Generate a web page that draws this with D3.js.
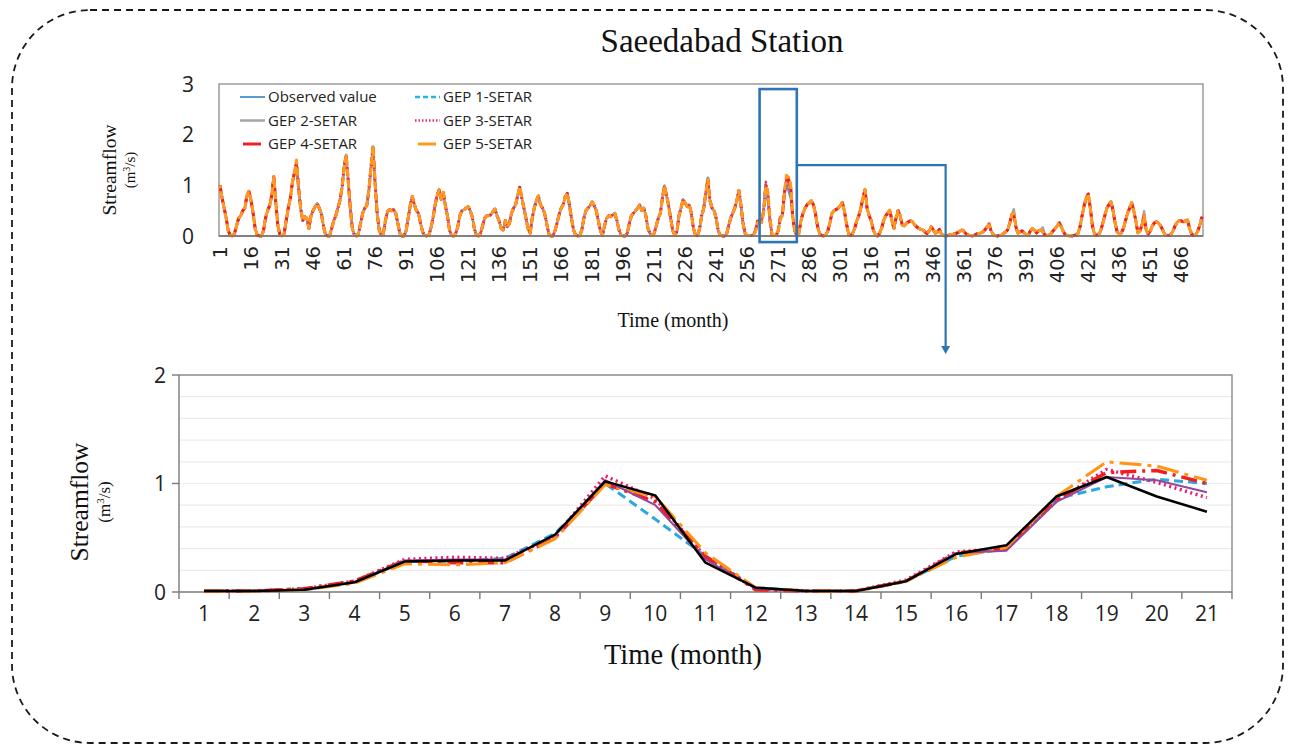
<!DOCTYPE html>
<html>
<head>
<meta charset="utf-8">
<script src="https://cdn.jsdelivr.net/npm/d3@7"></script>
<style>
  body { margin: 0; background: #fff; }
  svg { display: block; }
</style>
</head>
<body>
<svg id="fig" width="1293" height="753"></svg>
<script>
// ---------------- data ----------------
const seriesNames = ["Observed value", "GEP 1-SETAR", "GEP 2-SETAR", "GEP 3-SETAR", "GEP 4-SETAR", "GEP 5-SETAR"];

// Observed monthly streamflow (m3/s), months 1-256
const observedEarly = [
  1.00, 0.75, 0.55, 0.35, 0.10, 0.01, 0.00, 0.05, 0.20, 0.35,
  0.40, 0.50, 0.55, 0.80, 0.88, 0.70, 0.45, 0.15, 0.02, 0.00,
  0.00, 0.10, 0.35, 0.50, 0.60, 0.80, 1.17, 0.65, 0.20, 0.02,
  0.00, 0.05, 0.30, 0.55, 0.75, 1.05, 1.25, 1.45, 0.95, 0.55,
  0.30, 0.38, 0.35, 0.15, 0.40, 0.50, 0.58, 0.64, 0.55, 0.45,
  0.20, 0.03, 0.00, 0.00, 0.15, 0.30, 0.40, 0.55, 0.70, 0.95,
  1.35, 1.60, 1.10, 0.55, 0.15, 0.02, 0.00, 0.05, 0.25, 0.45,
  0.55, 0.60, 0.90, 1.35, 1.76, 1.05, 0.45, 0.12, 0.02, 0.05,
  0.30, 0.48, 0.52, 0.50, 0.52, 0.45, 0.25, 0.05, 0.00, 0.00,
  0.10, 0.35, 0.60, 0.78, 0.62, 0.50, 0.45, 0.25, 0.08, 0.01,
  0.00, 0.02, 0.15, 0.35, 0.60, 0.80, 0.91, 0.72, 0.86, 0.60,
  0.40, 0.12, 0.01, 0.00, 0.05, 0.18, 0.40, 0.50, 0.52, 0.55,
  0.58, 0.50, 0.38, 0.15, 0.02, 0.00, 0.05, 0.20, 0.35, 0.40,
  0.40, 0.42, 0.48, 0.53, 0.40, 0.30, 0.15, 0.12, 0.30, 0.18,
  0.25, 0.45, 0.55, 0.62, 0.80, 0.96, 0.75, 0.55, 0.35, 0.15,
  0.05, 0.35, 0.55, 0.70, 0.79, 0.62, 0.55, 0.45, 0.25, 0.05,
  0.00, 0.00, 0.10, 0.25, 0.42, 0.55, 0.62, 0.78, 0.84, 0.62,
  0.35, 0.12, 0.02, 0.00, 0.00, 0.12, 0.35, 0.50, 0.55, 0.60,
  0.67, 0.60, 0.50, 0.30, 0.10, 0.02, 0.20, 0.35, 0.40, 0.38,
  0.42, 0.45, 0.30, 0.12, 0.02, 0.00, 0.00, 0.05, 0.25, 0.40,
  0.45, 0.50, 0.55, 0.61, 0.50, 0.55, 0.40, 0.15, 0.05, 0.01,
  0.05, 0.20, 0.35, 0.45, 0.75, 0.99, 0.80, 0.60, 0.35, 0.10,
  0.02, 0.08, 0.40, 0.55, 0.72, 0.65, 0.58, 0.62, 0.45, 0.15,
  0.02, 0.00, 0.15, 0.40, 0.55, 0.85, 1.12, 0.70, 0.55, 0.50,
  0.35, 0.10, 0.02, 0.00, 0.00, 0.03, 0.20, 0.35, 0.45, 0.55,
  0.70, 0.90, 0.60, 0.25, 0.05, 0.01
];

// Observed monthly streamflow (m3/s), months 278-476
const observedLate = [
  0.40, 0.10, 0.02, 0.05, 0.30, 0.45, 0.55, 0.62, 0.65, 0.70,
  0.62, 0.45, 0.20, 0.05, 0.01, 0.00, 0.02, 0.10, 0.25, 0.45,
  0.50, 0.52, 0.55, 0.60, 0.66, 0.50, 0.25, 0.05, 0.01, 0.05,
  0.15, 0.30, 0.40, 0.55, 0.75, 0.92, 0.55, 0.40, 0.30, 0.12,
  0.03, 0.00, 0.05, 0.15, 0.30, 0.40, 0.45, 0.51, 0.30, 0.15,
  0.35, 0.50, 0.40, 0.22, 0.20, 0.25, 0.28, 0.30, 0.28, 0.22,
  0.18, 0.15, 0.13, 0.12, 0.08, 0.05, 0.10, 0.18, 0.12, 0.05,
  0.08, 0.13, 0.04, 0.01, 0.00, 0.01, 0.02, 0.03, 0.04, 0.05,
  0.07, 0.10, 0.12, 0.08, 0.04, 0.02, 0.01, 0.00, 0.02, 0.04,
  0.05, 0.06, 0.08, 0.12, 0.18, 0.22, 0.10, 0.03, 0.01, 0.00,
  0.01, 0.02, 0.05, 0.08, 0.12, 0.25, 0.42, 0.45, 0.18, 0.05,
  0.08, 0.10, 0.06, 0.03, 0.02, 0.10, 0.15, 0.12, 0.06, 0.10,
  0.12, 0.08, 0.02, 0.01, 0.02, 0.05, 0.10, 0.15, 0.20, 0.26,
  0.18, 0.08, 0.02, 0.01, 0.00, 0.00, 0.01, 0.02, 0.05, 0.18,
  0.40, 0.60, 0.75, 0.83, 0.55, 0.20, 0.04, 0.01, 0.03, 0.10,
  0.25, 0.40, 0.55, 0.62, 0.68, 0.50, 0.25, 0.08, 0.04, 0.06,
  0.15, 0.30, 0.45, 0.55, 0.66, 0.50, 0.30, 0.06, 0.10, 0.22,
  0.40, 0.12, 0.04, 0.10, 0.20, 0.26, 0.28, 0.25, 0.20, 0.12,
  0.03, 0.01, 0.01, 0.03, 0.10, 0.20, 0.27, 0.30, 0.30, 0.28,
  0.30, 0.32, 0.15, 0.04, 0.01, 0.02, 0.10, 0.22, 0.38
];

// 21-month detail window (months 257-277 of the record)
const zoomMonths = [1, 2, 3, 4, 5, 6, 7, 8, 9, 10, 11, 12, 13, 14, 15, 16, 17, 18, 19, 20, 21];
const zoomObserved = [0.01, 0.01, 0.02, 0.09, 0.28, 0.29, 0.29, 0.53, 1.02, 0.89, 0.27, 0.04, 0.01, 0.01, 0.10, 0.35, 0.43, 0.88, 1.06, 0.88, 0.74];
const zoomGep1     = [0.01, 0.01, 0.02, 0.09, 0.28, 0.28, 0.31, 0.54, 1.00, 0.67, 0.33, 0.04, 0.01, 0.01, 0.10, 0.33, 0.40, 0.86, 0.97, 1.04, 1.00];
const zoomGep2     = [0.01, 0.01, 0.02, 0.09, 0.29, 0.30, 0.30, 0.52, 1.03, 0.80, 0.30, 0.03, 0.01, 0.01, 0.10, 0.36, 0.38, 0.83, 1.06, 1.03, 0.92];
const zoomGep3     = [0.01, 0.01, 0.03, 0.10, 0.30, 0.32, 0.31, 0.51, 1.07, 0.86, 0.32, 0.03, 0.01, 0.01, 0.11, 0.37, 0.40, 0.84, 1.13, 1.01, 0.87];
const zoomGep4     = [0.01, 0.01, 0.03, 0.10, 0.29, 0.27, 0.27, 0.50, 1.00, 0.83, 0.33, 0.02, 0.01, 0.01, 0.10, 0.36, 0.40, 0.85, 1.10, 1.12, 1.00];
const zoomGep5     = [0.01, 0.01, 0.02, 0.08, 0.26, 0.25, 0.27, 0.49, 0.99, 0.88, 0.36, 0.04, 0.01, 0.01, 0.10, 0.32, 0.41, 0.88, 1.20, 1.16, 1.03];

// Months of the full record where a model curve departs visibly from the observed one: [month, value]
const gep1Departures = [[237, 1.15]];
const gep2Departures = [[385, 0.53], [399, 0.17], [448, 0.49]];
const gep3Departures = [[62, 1.55]];
const gep4Departures = [[360, 0.14], [373, 0.24], [385, 0.38]];
const gep5Departures = [[38, 1.50], [75, 1.78]];

const topXTicks = [1, 16, 31, 46, 61, 76, 91, 106, 121, 136, 151, 166, 181, 196, 211, 226, 241, 256, 271, 286, 301, 316, 331, 346, 361, 376, 391, 406, 421, 436, 451, 466];
const topYTicks = [0, 1, 2, 3];
const zoomYTicks = [0, 1, 2];

// highlighted span on the full record (months) and the level of the connector
const highlightFrom = 262, highlightTo = 280;
const connectorMonth = 352, connectorLevel = 1.4;

// ---------------- assemble series ----------------
const windowStart = observedEarly.length + 1;           // first month of the detail window
const observed = observedEarly.concat(zoomObserved, observedLate);
const nMonths = observed.length;

function modelRecord(zoomVals, departures) {
  const v = observed.slice();
  zoomVals.forEach((d, i) => { v[windowStart - 1 + i] = d; });
  departures.forEach(([m, val]) => { v[m - 1] = val; });
  return v;
}
const fullSeries = [
  observed,
  modelRecord(zoomGep1, gep1Departures),
  modelRecord(zoomGep2, gep2Departures),
  modelRecord(zoomGep3, gep3Departures),
  modelRecord(zoomGep4, gep4Departures),
  modelRecord(zoomGep5, gep5Departures)
];
const zoomSeries = [zoomObserved, zoomGep1, zoomGep2, zoomGep3, zoomGep4, zoomGep5];

// ---------------- styles ----------------
const SERIF = "'Liberation Serif', 'Times New Roman', serif";
const SANS = "'Open Sans', 'Noto Sans', sans-serif";

const topStyles = [
  { color: "#5B9BD5", width: 2,   dash: null },
  { color: "#2BB3E6", width: 2.5, dash: "5,3" },
  { color: "#A5A5A5", width: 2.5, dash: null },
  { color: "#E8306E", width: 2.5, dash: "1.5,2" },
  { color: "#EE1F26", width: 3,   dash: "8,3", offset: 0 },
  { color: "#FF9A1F", width: 3,   dash: "8,3", offset: 5 }
];
const zoomStyles = [
  { color: "#000000", width: 2.5, dash: null },
  { color: "#2AA8E0", width: 3,   dash: "9,5" },
  { color: "#95489A", width: 2,   dash: null },
  { color: "#F0186E", width: 3.5, dash: "2,3.5" },
  { color: "#F41C1C", width: 3.5, dash: "16,6,3,6" },
  { color: "#FF9415", width: 3,   dash: "22,6,4,6" }
];
const zoomDrawOrder = [1, 3, 4, 5, 2, 0];

const svg = d3.select("#fig");

// ---------------- outer dashed frame + title ----------------
svg.append("rect")
  .attr("x", 12).attr("y", 10).attr("width", 1271).attr("height", 733)
  .attr("rx", 78).attr("ry", 78)
  .attr("fill", "none").attr("stroke", "#1a1a1a")
  .attr("stroke-width", 1.8).attr("stroke-dasharray", "7,5");

svg.append("text")
  .attr("x", 722).attr("y", 52)
  .attr("text-anchor", "middle")
  .attr("font-family", SERIF).attr("font-size", 33)
  .attr("fill", "#111")
  .text("Saeedabad Station");

// ---------------- full record chart ----------------
const T = { left: 219, right: 1203, top: 84, bottom: 236 };
const xTop = d3.scaleLinear().domain([0.5, nMonths + 0.5]).range([T.left, T.right]);
const yTop = d3.scaleLinear().domain([0, 3]).range([T.bottom, T.top]);

const gTop = svg.append("g");

gTop.append("rect")
  .attr("x", T.left).attr("y", T.top)
  .attr("width", T.right - T.left).attr("height", T.bottom - T.top)
  .attr("fill", "#fff").attr("stroke", "#8c8c8c").attr("stroke-width", 1.3);

const topLine = d3.line()
  .x((d, i) => xTop(i + 1))
  .y(d => yTop(d));

fullSeries.forEach((s, k) => {
  const st = topStyles[k];
  gTop.append("path")
    .attr("d", topLine(s))
    .attr("fill", "none")
    .attr("stroke", st.color)
    .attr("stroke-width", st.width)
    .attr("stroke-linejoin", "round")
    .attr("stroke-dasharray", st.dash)
    .attr("stroke-dashoffset", st.offset || 0);
});

// category axis line
gTop.append("line")
  .attr("x1", T.left).attr("x2", T.right)
  .attr("y1", yTop(0)).attr("y2", yTop(0))
  .attr("stroke", "#6f6f6f").attr("stroke-width", 1.5);

// y tick labels
gTop.selectAll("text.ytick").data(topYTicks).join("text")
  .attr("class", "ytick")
  .attr("x", 194).attr("y", d => yTop(d))
  .attr("dy", "0.36em").attr("text-anchor", "end")
  .attr("font-family", SANS).attr("font-size", 21).attr("fill", "#222")
  .text(d => d);

// rotated month labels
gTop.selectAll("text.xtick").data(topXTicks).join("text")
  .attr("class", "xtick")
  .attr("transform", d => `translate(${xTop(d)},${246}) rotate(-90)`)
  .attr("dy", "0.36em").attr("text-anchor", "end")
  .attr("font-family", "'DejaVu Sans', sans-serif").attr("font-size", 19.5).attr("fill", "#222")
  .text(d => d);

gTop.append("text")
  .attr("x", 673).attr("y", 327).attr("text-anchor", "middle")
  .attr("font-family", SERIF).attr("font-size", 20).attr("fill", "#111")
  .text("Time (month)");

const yTitleTop = gTop.append("g").attr("transform", "translate(116,170) rotate(-90)");
yTitleTop.append("text").attr("text-anchor", "middle")
  .attr("font-family", SERIF).attr("font-size", 19.5).attr("fill", "#111")
  .text("Streamflow");
const unitTop = yTitleTop.append("text").attr("y", 19).attr("text-anchor", "middle")
  .attr("font-family", SERIF).attr("font-size", 15).attr("fill", "#111");
unitTop.append("tspan").text("(m");
unitTop.append("tspan").attr("dy", -5).attr("font-size", 10).text("3");
unitTop.append("tspan").attr("dy", 5).text("/s)");

// legend
seriesNames.forEach((name, i) => {
  const col = i % 2, row = Math.floor(i / 2);
  const x0 = 240 + col * 175, yy = 97 + row * 23.5;
  const st = topStyles[i];
  gTop.append("line")
    .attr("x1", x0).attr("x2", x0 + 25).attr("y1", yy).attr("y2", yy)
    .attr("stroke", st.color).attr("stroke-width", st.width)
    .attr("stroke-dasharray", (i >= 4) ? "18,30" : st.dash)
    .attr("stroke-dashoffset", (i >= 4) ? -3 : 0);
  gTop.append("text")
    .attr("x", x0 + 28).attr("y", yy).attr("dy", "0.35em")
    .attr("font-family", SANS).attr("font-size", 15).attr("fill", "#222")
    .text(name);
});

// highlighted detail window and connector
const boxTopLevel = 2.9, boxBottomLevel = -0.12;
gTop.append("rect")
  .attr("x", xTop(highlightFrom)).attr("y", yTop(boxTopLevel))
  .attr("width", xTop(highlightTo) - xTop(highlightFrom))
  .attr("height", yTop(boxBottomLevel) - yTop(boxTopLevel))
  .attr("fill", "none").attr("stroke", "#2E75B6").attr("stroke-width", 2.6);

// ---------------- detail window chart ----------------
const B = { left: 179, right: 1232, top: 375, bottom: 592 };
const xZoom = d3.scaleBand().domain(zoomMonths).range([B.left, B.right]);
const yZoom = d3.scaleLinear().domain([0, 2]).range([B.bottom, B.top]);

const arrowTipY = B.top - 21;
svg.append("path")
  .attr("d", `M${xTop(highlightTo)},${yTop(connectorLevel)} H${xTop(connectorMonth)} V${arrowTipY - 7}`)
  .attr("fill", "none").attr("stroke", "#2E75B6").attr("stroke-width", 2.2);
svg.append("path")
  .attr("d", `M${xTop(connectorMonth) - 4.5},${arrowTipY - 8} L${xTop(connectorMonth) + 4.5},${arrowTipY - 8} L${xTop(connectorMonth)},${arrowTipY} Z`)
  .attr("fill", "#2E75B6");

const gBot = svg.append("g");

// minor gridlines every 0.2
const gridLevels = d3.range(1, 10).map(i => i * 0.2);
gBot.selectAll("line.grid").data(gridLevels).join("line")
  .attr("class", "grid")
  .attr("x1", B.left).attr("x2", B.right)
  .attr("y1", d => yZoom(d)).attr("y2", d => yZoom(d))
  .attr("stroke", "#ececec").attr("stroke-width", 1.2);

// plot border (top and right)
gBot.append("path")
  .attr("d", `M${B.left},${B.top} H${B.right} V${B.bottom}`)
  .attr("fill", "none").attr("stroke", "#8c8c8c").attr("stroke-width", 1.4);

// left axis
gBot.append("line")
  .attr("x1", B.left).attr("x2", B.left).attr("y1", B.top).attr("y2", B.bottom)
  .attr("stroke", "#7a7a7a").attr("stroke-width", 1.4);
gBot.selectAll("line.ytk").data(zoomYTicks).join("line")
  .attr("class", "ytk")
  .attr("x1", B.left - 7).attr("x2", B.left)
  .attr("y1", d => yZoom(d)).attr("y2", d => yZoom(d))
  .attr("stroke", "#7a7a7a").attr("stroke-width", 1.4);
gBot.selectAll("text.ytl").data(zoomYTicks).join("text")
  .attr("class", "ytl")
  .attr("x", B.left - 13).attr("y", d => yZoom(d)).attr("dy", "0.36em")
  .attr("text-anchor", "end")
  .attr("font-family", SANS).attr("font-size", 21).attr("fill", "#222")
  .text(d => d);

// bottom axis
gBot.append("line")
  .attr("x1", B.left).attr("x2", B.right).attr("y1", B.bottom).attr("y2", B.bottom)
  .attr("stroke", "#7a7a7a").attr("stroke-width", 1.4);
const boundaries = zoomMonths.map(m => xZoom(m)).concat([xZoom(zoomMonths[zoomMonths.length - 1]) + xZoom.bandwidth()]);
gBot.selectAll("line.xtk").data(boundaries).join("line")
  .attr("class", "xtk")
  .attr("x1", d => d).attr("x2", d => d)
  .attr("y1", B.bottom).attr("y2", B.bottom + 7)
  .attr("stroke", "#7a7a7a").attr("stroke-width", 1.4);
gBot.selectAll("text.xtl").data(zoomMonths).join("text")
  .attr("class", "xtl")
  .attr("x", d => xZoom(d) + xZoom.bandwidth() / 2).attr("y", 621)
  .attr("text-anchor", "middle")
  .attr("font-family", SANS).attr("font-size", 21).attr("fill", "#222")
  .text(d => d);

gBot.append("text")
  .attr("x", 683).attr("y", 664).attr("text-anchor", "middle")
  .attr("font-family", SERIF).attr("font-size", 28.5).attr("fill", "#111")
  .text("Time (month)");

const yTitleBot = gBot.append("g").attr("transform", "translate(88,502) rotate(-90)");
yTitleBot.append("text").attr("text-anchor", "middle")
  .attr("font-family", SERIF).attr("font-size", 25.5).attr("fill", "#111")
  .text("Streamflow");
const unitBot = yTitleBot.append("text").attr("y", 22).attr("text-anchor", "middle")
  .attr("font-family", SERIF).attr("font-size", 17).attr("fill", "#111");
unitBot.append("tspan").text("(m");
unitBot.append("tspan").attr("dy", -6).attr("font-size", 11).text("3");
unitBot.append("tspan").attr("dy", 6).text("/s)");

const zoomLine = d3.line()
  .x((d, i) => xZoom(zoomMonths[i]) + xZoom.bandwidth() / 2)
  .y(d => yZoom(d));

zoomDrawOrder.forEach(k => {
  const st = zoomStyles[k];
  gBot.append("path")
    .attr("d", zoomLine(zoomSeries[k]))
    .attr("fill", "none")
    .attr("stroke", st.color)
    .attr("stroke-width", st.width)
    .attr("stroke-linejoin", "round")
    .attr("stroke-dasharray", st.dash);
});
</script>
</body>
</html>
